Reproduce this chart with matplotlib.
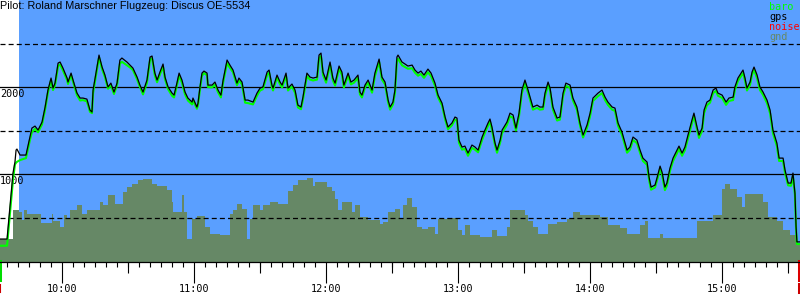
import matplotlib.pyplot as plt
from matplotlib.ticker import MultipleLocator, FixedLocator

# time axis: minutes after 09:00
t_min = [31.8, 35.0, 37.7, 38.6, 39.1, 39.5, 40.9, 43.6, 45.4, 46.3, 47.7, 49.1, 50.9, 52.3, 53.6,
         55.0, 55.9, 56.8, 58.2, 59.1, 60.4, 62.3, 62.7, 64.1, 65.0, 66.8, 68.2, 69.5, 71.3, 72.7,
         73.6, 74.1, 75.9, 76.8, 78.2, 79.5, 80.9, 82.2, 83.6, 85.0, 86.3, 87.2, 89.5, 90.9, 92.2,
         94.1, 95.4, 96.8, 98.6, 100.0, 100.9, 102.2, 103.2, 104.5, 105.9, 106.8, 108.2, 110.0, 110.9, 112.2,
         113.2, 114.5, 115.9, 117.2, 119.1, 119.5, 121.3, 121.8, 122.7, 123.6, 124.5, 125.9, 126.3, 128.2, 129.5,
         130.9, 132.2, 133.2, 135.0, 136.3, 137.7, 139.5, 140.4, 141.8, 143.2, 144.5, 146.8, 148.6, 150.0, 151.3,
         153.2, 154.1, 155.4, 155.9, 157.7, 159.1, 160.0, 161.8, 162.7, 164.5, 165.9, 167.2, 168.6, 169.5, 171.3,
         172.7, 174.1, 175.9, 176.8, 177.7, 178.6, 180.0, 181.8, 183.1, 184.1, 185.9, 187.2, 188.1, 190.0, 191.3,
         192.7, 194.5, 195.4, 196.3, 197.7, 199.1, 200.9, 202.2, 204.1, 205.4, 206.8, 208.2, 209.1, 210.4, 211.3,
         212.2, 212.7, 214.5, 215.9, 217.2, 219.1, 220.4, 221.8, 223.1, 224.5, 226.3, 227.7, 229.5, 230.9, 232.7,
         234.1, 235.4, 237.2, 238.6, 239.5, 240.4, 241.8, 243.1, 244.5, 246.3, 247.7, 249.1, 250.9, 252.2, 253.6,
         254.5, 255.4, 256.8, 257.7, 259.1, 260.0, 262.2, 263.6, 265.0, 266.3, 267.7, 269.0, 270.4, 271.8, 274.0,
         275.9, 277.2, 278.6, 279.5, 280.9, 281.8, 283.1, 285.0, 286.3, 287.7, 289.0, 290.9, 292.2, 294.0, 295.4,
         296.8, 298.6, 300.0, 301.3, 303.6, 305.4, 306.8, 308.1, 310.0, 311.3, 312.7, 314.5, 316.8, 318.1, 319.5,
         321.3, 322.7, 324.0, 325.9, 326.8, 327.7, 329.5, 330.4, 331.8, 332.7, 334.0, 334.9, 336.3, 337.7, 339.5,
         340.4, 341.8, 343.1, 344.5, 346.3, 347.2, 348.6, 349.5, 350.9, 351.8, 353.1, 354.5, 355.9, 357.2, 358.1,
         360.0, 361.8, 363.1, 365.0, 365.8, 367.2, 369.5, 370.4, 371.3, 372.7, 373.6, 374.5, 375.9, 377.2, 378.6,
         380.4, 381.8, 383.1, 384.9, 385.9, 387.7, 388.6, 390.0, 391.3, 392.2, 393.1, 393.6, 394.0, 395.4]

gps_alt = [253, 253, 1011, 1137, 1275, 1287, 1218, 1218, 1425, 1528, 1551, 1505, 1597, 1770, 1965,
           2103, 1988, 2045, 2275, 2287, 2218, 2103, 2057, 2160, 2080, 1930, 1873, 1873, 1861, 1735,
           1712, 1965, 2229, 2367, 2229, 2137, 2000, 2045, 1942, 2045, 2310, 2333, 2287, 2252, 2218,
           2114, 2022, 1942, 2080, 2344, 2356, 2160, 2080, 2172, 2264, 2114, 2000, 1930, 1907, 2045,
           2160, 2080, 1942, 1873, 1827, 1873, 1770, 1815, 2000, 2160, 2183, 2160, 2022, 2022, 2057,
           1965, 1907, 2080, 2310, 2252, 2195, 2045, 2103, 2057, 1850, 1850, 1827, 1930, 1988, 2000,
           2172, 2195, 2022, 1988, 2137, 2057, 2022, 2160, 1988, 2034, 1965, 1792, 1770, 1884, 2160,
           2114, 2103, 2114, 2367, 2390, 2172, 2080, 2287, 2103, 2045, 2241, 2172, 2022, 2160, 2057,
           2080, 2137, 1942, 1907, 2022, 2080, 1965, 2160, 2321, 2114, 2057, 1850, 1770, 1827, 1965,
           2344, 2367, 2287, 2264, 2241, 2252, 2195, 2160, 2183, 2137, 2206, 2160, 2045, 1907, 1815,
           1655, 1540, 1586, 1655, 1643, 1390, 1310, 1321, 1241, 1333, 1310, 1275, 1425, 1505, 1586,
           1632, 1540, 1356, 1275, 1390, 1505, 1597, 1700, 1678, 1528, 1700, 1965, 2080, 1965, 1770,
           1792, 1770, 1770, 1930, 2057, 1988, 1770, 1643, 1655, 1930, 2045, 2022, 1873, 1770, 1586,
           1448, 1563, 1700, 1873, 1930, 1965, 1884, 1827, 1770, 1758, 1586, 1482, 1275, 1310, 1425,
           1390, 1275, 1183, 1137, 965, 850, 873, 954, 1091, 1022, 850, 896, 1068, 1183, 1275,
           1321, 1241, 1310, 1448, 1620, 1700, 1540, 1448, 1528, 1735, 1827, 1850, 1965, 1988, 1930,
           1907, 1827, 1873, 1884, 2000, 2103, 2195, 2103, 1988, 2057, 2172, 2229, 2137, 2000, 1942,
           1850, 1735, 1505, 1356, 1183, 1183, 1045, 896, 896, 1011, 781, 400, 220, 220]

baro_alt = [176, 176, 930, 1110, 1130, 1140, 1160, 1183, 1390, 1480, 1520, 1480, 1570, 1740, 1940,
            2080, 1965, 2020, 2240, 2260, 2190, 2080, 2035, 2135, 2060, 1905, 1845, 1850, 1835, 1715,
            1700, 1930, 2200, 2340, 2205, 2115, 1980, 2020, 1920, 2020, 2270, 2290, 2250, 2225, 2195,
            2090, 2000, 1915, 2050, 2315, 2330, 2130, 2055, 2145, 2235, 2090, 1975, 1900, 1880, 2015,
            2130, 2050, 1915, 1845, 1800, 1850, 1750, 1790, 1975, 2130, 2160, 2135, 2000, 1995, 2030,
            1940, 1880, 2050, 2275, 2220, 2170, 2020, 2075, 2030, 1820, 1815, 1800, 1900, 1960, 1975,
            2140, 2165, 1995, 1960, 2110, 2030, 1995, 2130, 1960, 2005, 1935, 1765, 1745, 1855, 2125,
            2085, 2075, 2085, 2330, 2355, 2140, 2050, 2255, 2075, 2015, 2210, 2140, 1995, 2130, 2030,
            2050, 2105, 1915, 1880, 1995, 2050, 1935, 2125, 2290, 2085, 2030, 1825, 1740, 1800, 1930,
            2300, 2325, 2250, 2230, 2210, 2215, 2165, 2130, 2150, 2105, 2170, 2125, 2015, 1880, 1790,
            1630, 1515, 1560, 1625, 1615, 1360, 1280, 1290, 1210, 1300, 1280, 1250, 1390, 1475, 1555,
            1600, 1510, 1330, 1245, 1360, 1470, 1565, 1665, 1645, 1500, 1665, 1930, 2045, 1935, 1740,
            1760, 1740, 1745, 1895, 2025, 1960, 1740, 1615, 1625, 1895, 2015, 1990, 1845, 1740, 1560,
            1420, 1530, 1665, 1840, 1895, 1930, 1850, 1795, 1740, 1725, 1555, 1450, 1245, 1280, 1390,
            1355, 1245, 1150, 1105, 935, 820, 845, 925, 1060, 990, 815, 865, 1035, 1150, 1240,
            1290, 1210, 1275, 1410, 1585, 1665, 1510, 1415, 1495, 1700, 1790, 1820, 1930, 1955, 1900,
            1875, 1795, 1840, 1850, 1965, 2070, 2160, 2075, 1960, 2025, 2140, 2195, 2100, 1965, 1910,
            1815, 1700, 1470, 1320, 1150, 1150, 1010, 870, 865, 980, 760, 380, 195, 195]

# ground elevation under the track (step values)
gnd_t = [31.8, 37.7, 40.4, 41.8, 42.7, 44.1, 50.4, 55.4, 55.9, 59.1, 60.9, 62.3, 63.6, 66.8, 69.1,
         71.3, 77.3, 78.6, 80.9, 84.1, 87.7, 89.5, 91.8, 94.5, 96.8, 100.9, 103.2, 107.7, 110.0, 110.4,
         114.5, 115.4, 116.8, 119.1, 121.3, 125.0, 127.2, 131.8, 136.3, 137.7, 139.5, 141.8, 144.1, 145.4, 146.8,
         150.0, 151.3, 154.5, 158.2, 162.7, 165.0, 167.2, 171.3, 174.1, 175.0, 180.4, 182.7, 184.1, 185.4, 187.2,
         191.8, 193.1, 195.4, 199.1, 204.5, 205.9, 208.2, 211.3, 213.6, 215.0, 216.8, 219.1, 221.3, 223.6, 226.3,
         229.5, 230.9, 235.0, 240.0, 241.8, 243.1, 245.4, 250.0, 255.4, 257.7, 262.2, 263.6, 270.4, 271.8, 274.0,
         276.3, 280.9, 285.0, 289.5, 292.2, 295.4, 304.5, 308.1, 313.6, 316.8, 322.7, 325.0, 326.3, 331.8, 333.1,
         348.6, 355.9, 360.0, 361.3, 363.6, 366.8, 369.0, 370.4, 378.6, 380.9, 385.0, 387.7, 390.9, 394.0, 395.4]
gnd_alt = [250, 586, 563, 471, 586, 540, 437, 540, 460, 390, 529, 483, 586, 643, 540,
           586, 678, 643, 758, 655, 793, 850, 885, 930, 942, 885, 862, 816, 678, 563,
           758, 563, 253, 483, 517, 390, 310, 299, 540, 586, 655, 597, 253, 483, 643,
           586, 643, 678, 655, 804, 873, 930, 954, 862, 908, 850, 804, 712, 586, 678,
           563, 643, 506, 471, 425, 448, 563, 598, 494, 643, 724, 620, 390, 368, 390,
           310, 483, 494, 356, 299, 414, 299, 276, 356, 287, 390, 586, 529, 460, 390,
           310, 425, 448, 483, 563, 529, 506, 414, 380, 310, 414, 460, 264, 310, 264,
           460, 529, 827, 885, 827, 735, 620, 770, 678, 506, 460, 356, 300, 195, 195]

t_start, t_end = 31.8, 395.4
task_start = 40.4
hour_ticks = [60, 120, 180, 240, 300, 360]
hour_labels = ['10:00', '11:00', '12:00', '13:00', '14:00', '15:00']
half_ticks = [90, 150, 210, 270, 330, 390]
solid_levels = [1000, 2000]
dashed_levels = [500, 1500, 2500]

title = 'Pilot: Roland Marschner Flugzeug: Discus OE-5534'
legend = [('baro', '#00ff00'), ('gps', 'black'), ('noise', 'red'), ('gnd', '#668866')]

mono = 'DejaVu Sans Mono'
blue = '#5a9fff'
gnd_col = '#668866'

fig = plt.figure(figsize=(8, 3), dpi=100)
ax = fig.add_axes([0, 38/300, 1, 262/300])
ax.set_xlim(t_start, t_end)
ax.set_ylim(-11, 3000)

ax.axvspan(task_start, t_end, color=blue, lw=0, zorder=0)
ax.fill_between(gnd_t, gnd_alt, -11, step='post', color=gnd_col, lw=0, zorder=1)

for h in solid_levels:
    ax.axhline(h, color='black', lw=0.9, zorder=2)
    ax.annotate(str(h), xy=(0, h), xycoords=('axes fraction', 'data'),
                xytext=(0, -1.5), textcoords='offset points',
                ha='left', va='top', fontsize=7.3, family=mono, zorder=2)
for h in dashed_levels:
    ax.axhline(h, color='black', lw=0.9, ls=(0, (4, 2.5)), zorder=2)

ax.plot(t_min, baro_alt, color='#00ff00', lw=1.5, zorder=3)
ax.plot(t_min, gps_alt, color='black', lw=0.9, zorder=4)

for s in ['left', 'right', 'top']:
    ax.spines[s].set_visible(False)
ax.spines['bottom'].set_linewidth(0.9)
ax.set_yticks([])

ax.xaxis.set_major_locator(FixedLocator(hour_ticks))
ax.set_xticklabels(hour_labels)
ax.xaxis.set_minor_locator(MultipleLocator(5))
ax.tick_params(axis='x', which='major', length=15, width=0.8, pad=0.5, labelsize=7.3)
ax.tick_params(axis='x', which='minor', length=3.8, width=0.8)
for lab in ax.get_xticklabels():
    lab.set_family(mono)

sec = ax.secondary_xaxis('bottom')
sec.set_xticks(half_ticks)
sec.tick_params(length=8, width=0.8, labelbottom=False)
sec.spines['bottom'].set_visible(False)

# take-off / landing markers below the axis
tr = ax.get_xaxis_transform()
ax.plot([t_start, t_start], [0, -18/262], color='#00dd00', lw=2.9, transform=tr, clip_on=False)
ax.plot([t_start, t_start], [-23/262, -30/262], color='#cc0000', lw=1.5, transform=tr, clip_on=False)
ax.plot([t_end, t_end], [0, -18/262], color='#dd0000', lw=2.9, transform=tr, clip_on=False)
ax.plot([t_end, t_end], [-23/262, -30/262], color='#cc0000', lw=2.9, transform=tr, clip_on=False)

fig.text(0.0, 1 - 1/300, title, ha='left', va='top', fontsize=7.8, family='Liberation Sans')
for i, (name, col) in enumerate(legend):
    fig.text(769/800, 1 - (2 + 10*i)/300, name, ha='left', va='top', fontsize=7.3,
             family=mono, color=col)

fig.savefig('out.png', dpi=100)
